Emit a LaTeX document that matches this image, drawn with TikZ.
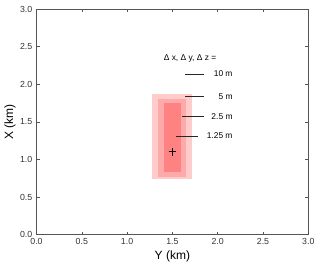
\documentclass[tikz,border=0pt]{standalone}
\usepackage{fontspec}
\setmainfont{Liberation Sans}
\definecolor{axisgray}{HTML}{555555}
\definecolor{labgray}{HTML}{333333}
\definecolor{boxA}{HTML}{FFCCCC}
\definecolor{boxB}{HTML}{FFAAAA}
\definecolor{boxC}{HTML}{FF8282}
\tikzset{
  frame/.style={draw=axisgray, line width=0.9pt},
  tickmark/.style={draw=axisgray, line width=0.6pt},
  ticklab/.style={font=\fontsize{8.8}{10}\selectfont, text=labgray, inner sep=0pt},
  axlab/.style={font=\fontsize{12}{14}\selectfont, text=black, inner sep=0pt},
  legline/.style={draw=black!85, line width=0.7pt},
  legtext/.style={font=\fontsize{8.4}{10}\selectfont, text=black, inner sep=0pt, anchor=east},
}
\begin{document}
\begin{tikzpicture}[x=1pt,y=1pt]
\useasboundingbox (0,0) rectangle (320,266);
\fill[white] (0,0) rectangle (320,266);
\begin{scope}[shift={(36.5pt,31.3pt)}, x=90.6pt, y=75.2pt]
  % resolution boxes
  \fill[boxA] (1.28,0.74) rectangle (1.72,1.867);
  \fill[boxB] (1.345,0.77) rectangle (1.653,1.805);
  \fill[boxC] (1.407,0.837) rectangle (1.591,1.747);
  % source marker
  \coordinate (src) at (1.5,1.1);
  \draw[line width=1pt] ([xshift=-3.7pt]src) -- ([xshift=3.7pt]src);
  \draw[line width=1pt] ([yshift=-3.7pt]src) -- ([yshift=3.7pt]src);
  % frame
  \draw[frame] (0,0) rectangle (3,3);
  % ticks
  \foreach \v in {0.5,1.0,1.5,2.0,2.5} {
    \draw[tickmark] (\v,0) -- ++(0,3pt);
    \draw[tickmark] (\v,3) -- ++(0,-3pt);
    \draw[tickmark] (0,\v) -- ++(3pt,0);
    \draw[tickmark] (3,\v) -- ++(-3pt,0);
  }
  % tick labels
  \foreach \v/\n in {0.0/xa,0.5/xb,1.0/xc,1.5/xd,2.0/xe,2.5/xf,3.0/xg} {
    \node[ticklab, anchor=north] (\n) at ([yshift=-3.5pt]\v,0) {\v};
  }
  \foreach \v/\n in {0.0/ya,0.5/yb,1.0/yc,1.5/yd,2.0/ye,2.5/yf,3.0/yg} {
    \node[ticklab, anchor=east] (\n) at ([xshift=-4pt]0,\v) {\v};
  }
  % axis labels
  \node[axlab] (ylab) at ([yshift=-22pt]1.5,0) {Y (km)};
  \node[axlab, rotate=90] (xlab) at ([xshift=-26.5pt]0,1.5) {X (km)};
\end{scope}
% legend (pixel coordinates, y = 266 - py)
\node[font=\fontsize{8.4}{10}\selectfont, inner sep=0pt] (head) at (190,208) {Δ x, Δ y, Δ z =};
\node[legtext] (l10) at (232.7,192) {10 m};
\node[legtext] (l5) at (232.7,169) {5 m};
\node[legtext] (l25) at (232.7,149.3) {2.5 m};
\node[legtext] (l125) at (232.7,130) {1.25 m};
\coordinate (a10) at (185,192);   \coordinate (b10) at (204.3,192);
\coordinate (a5) at (185,169.3);  \coordinate (b5) at (204.3,169.3);
\coordinate (a25) at (182.3,149.3); \coordinate (b25) at (204.3,149.3);
\coordinate (a125) at (176,130);  \coordinate (b125) at (197.7,130);
\draw[legline] (a10) -- (b10);
\draw[legline] (a5) -- (b5);
\draw[legline] (a25) -- (b25);
\draw[legline] (a125) -- (b125);
\end{tikzpicture}
\end{document}
